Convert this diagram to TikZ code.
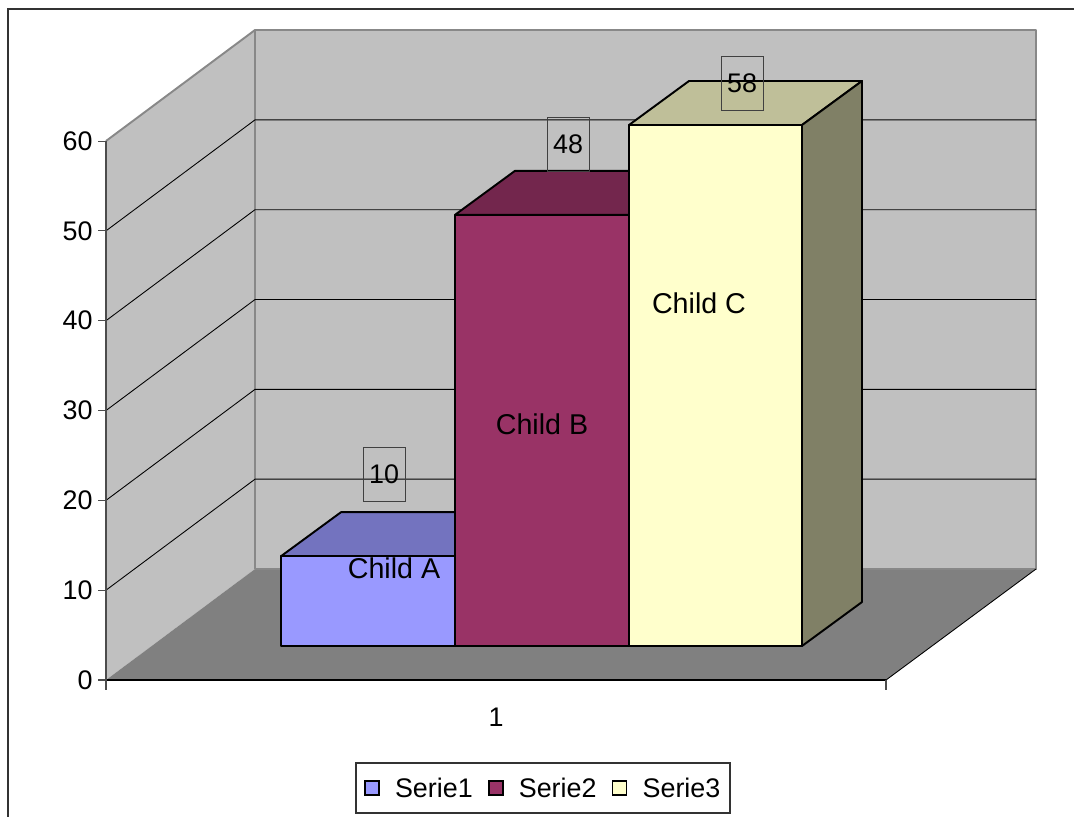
\documentclass[tikz,border=0pt]{standalone}
\usepackage{fontspec}
\setmainfont{Liberation Sans}
\usetikzlibrary{positioning,calc}

\definecolor{wallgray}{HTML}{C0C0C0}
\definecolor{floorgray}{HTML}{808080}
\definecolor{edgegray}{HTML}{888888}
\definecolor{serieA}{HTML}{9999FF}
\definecolor{serieAtop}{HTML}{7373BF}
\definecolor{serieB}{HTML}{993366}
\definecolor{serieBtop}{HTML}{73264D}
\definecolor{serieC}{HTML}{FFFFCC}
\definecolor{serieCtop}{HTML}{BFBF99}
\definecolor{serieCside}{HTML}{808066}

\tikzset{
	barface/.style={draw=black, line width=1.1pt, line join=round},
	gridline/.style={draw=black, line width=0.5pt},
	wallface/.style={draw=edgegray, line width=1.1pt, line join=round},
	axislabel/.style={font=\fontsize{15.3}{18}\selectfont, anchor=east, inner sep=0pt},
	childlabel/.style={font=\fontsize{16.3}{19}\selectfont, inner sep=0pt},
	valbox/.style={draw=black!75, line width=0.4pt, font=\fontsize{15.3}{18}\selectfont, inner sep=0pt, minimum width=0.84cm, minimum height=1.08cm},
	legsq/.style={draw=black, line width=0.8pt, minimum size=0.28cm, inner sep=0pt},
	legtext/.style={font=\fontsize{15.3}{18}\selectfont, inner sep=0pt}
}

\begin{document}
\begin{tikzpicture}[x=0.02cm, y=-0.02cm]
	\useasboundingbox (0,0) rectangle (1074,816);
	\draw[black!80, line width=1.1pt] (8,830) -- (8,9) -- (1090,9);

	% walls and floor
	\fill[wallgray] (106,141) -- (255,30) -- (255,569) -- (106,680) -- cycle;
	\fill[wallgray] (255,30) rectangle (1036,569);
	\fill[floorgray] (106,680) -- (255,569) -- (1036,569) -- (886,680) -- cycle;
	\draw[wallface] (106,141) -- (255,30) -- (1036,30) -- (1036,569) -- (255,569);
	\draw[wallface] (255,30) -- (255,569);
	\foreach \k in {1,...,5} {
		\draw[gridline] (106,{680-89.83*\k}) -- (255,{569-89.83*\k}) -- (1036,{569-89.83*\k});
	}
	\draw[black, line width=0.5pt] (886,680) -- (1036,569);
	\draw[black, line width=0.8pt] (106,680) -- (886,680);
	\draw[black!70, line width=0.6pt] (106,141) -- (106,690);
	\draw[black!70, line width=0.6pt] (886,680) -- (886,690);

	% value axis
	\foreach \k in {0,...,6} {
		\draw[black!70, line width=0.6pt] (98,{680-89.83*\k}) -- (106,{680-89.83*\k});
		\pgfmathtruncatemacro{\lab}{10*\k}
		\node[axislabel] (ylab\k) at (93,{680-89.83*\k}) {\lab};
	}
	\node[axislabel, anchor=center] (xlab) at (496,717) {1};

	% bars
	\foreach \xl/\xr/\v/\cf/\ct in {281/455/10/serieA/serieAtop, 455/629/48/serieB/serieBtop, 629/802/58/serieC/serieCtop} {
		\pgfmathsetmacro{\ytop}{646-8.983*\v}
		\draw[barface, fill=\ct] (\xl,\ytop) -- ++(60,-44) -- ++(\xr-\xl,0) -- (\xr,\ytop) -- cycle;
		\draw[barface, fill=\cf] (\xl,646) rectangle (\xr,\ytop);
	}
	\draw[barface, fill=serieCside] (802,125) -- (862,81) -- (862,602) -- (802,646) -- cycle;

	\node[childlabel] (childA) at (394,568) {Child A};
	\node[childlabel] (childB) at (542,424) {Child B};
	\node[childlabel] (childC) at (699,303) {Child C};

	\node[valbox] (valA) at (384,474) {10};
	\node[valbox] (valB) at (568,144.5) {48};
	\node[valbox] (valC) at (742,83) {58};

	% legend
	\draw[black!80, line width=0.6pt] (356,763) rectangle (730,813);
	\node[legsq, fill=serieA] (sq1) at (372,788) {};
	\node[legtext, right=0.3cm of sq1] (leg1) {Serie1};
	\node[legsq, fill=serieB, right=0.3cm of leg1] (sq2) {};
	\node[legtext, right=0.3cm of sq2] (leg2) {Serie2};
	\node[legsq, fill=serieC, right=0.3cm of leg2] (sq3) {};
	\node[legtext, right=0.3cm of sq3] (leg3) {Serie3};
\end{tikzpicture}
\end{document}
